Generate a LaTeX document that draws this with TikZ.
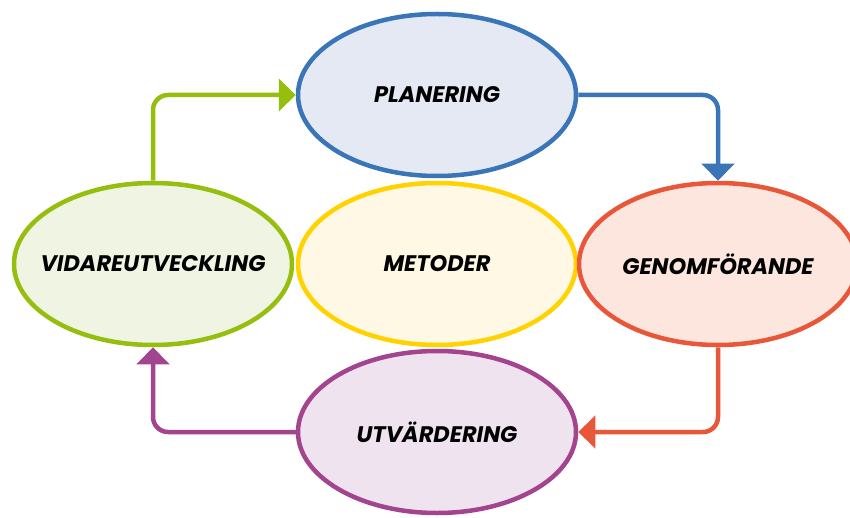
\documentclass[tikz,border=0pt]{standalone}
\usepackage{fontspec}
\setmainfont{Poppins}
\usetikzlibrary{shapes.geometric,arrows.meta}
\definecolor{cblue}{HTML}{3A75B8}
\definecolor{fblue}{HTML}{E4E9F3}
\definecolor{corange}{HTML}{E8573A}
\definecolor{forange}{HTML}{FCE6DD}
\definecolor{cgreen}{HTML}{95BE0E}
\definecolor{fgreen}{HTML}{EFF5E2}
\definecolor{cyellow}{HTML}{FFD200}
\definecolor{fyellow}{HTML}{FFF8E5}
\definecolor{cpurple}{HTML}{A3448F}
\definecolor{fpurple}{HTML}{EFE3F0}
\newcommand{\zerow}[1]{\makebox[0pt]{#1}}
\tikzset{
  phase/.style={ellipse, draw=#1, line width=4.5pt, minimum width=278pt, minimum height=162pt, inner sep=0pt,
    font=\fontsize{22.5}{26}\selectfont\bfseries\itshape},
  flow/.style={draw=#1, line width=4.5pt, rounded corners=15pt, -{Triangle[width=32pt,length=17pt,fill=#1]}},
}
\begin{document}
\begin{tikzpicture}[x=1pt,y=-1pt]
\useasboundingbox (0,0) rectangle (850,518);
\clip (0,0) rectangle (850,518);
\node[phase=cblue, fill=fblue] (plan) at (437,95) {\zerow{PLANERING}};
\node[phase=cyellow, fill=fyellow] (met) at (437,264) {\zerow{METODER}};
\node[phase=cgreen, fill=fgreen] (vid) at (153,264) {\zerow{VIDAREUTVECKLING}};
\node[phase=corange, fill=forange] (gen) at (718,264) {\zerow{GENOMFÖRANDE}};
\node[phase=cpurple, fill=fpurple] (utv) at (437,432) {\zerow{UTVÄRDERING}};
\draw[flow=cblue] (plan.east) -| (gen.north);
\draw[flow=corange] (gen.south) |- (utv.east);
\draw[flow=cpurple] (utv.west) -| (vid.south);
\draw[flow=cgreen] (vid.north) |- (plan.west);
\end{tikzpicture}
\end{document}
